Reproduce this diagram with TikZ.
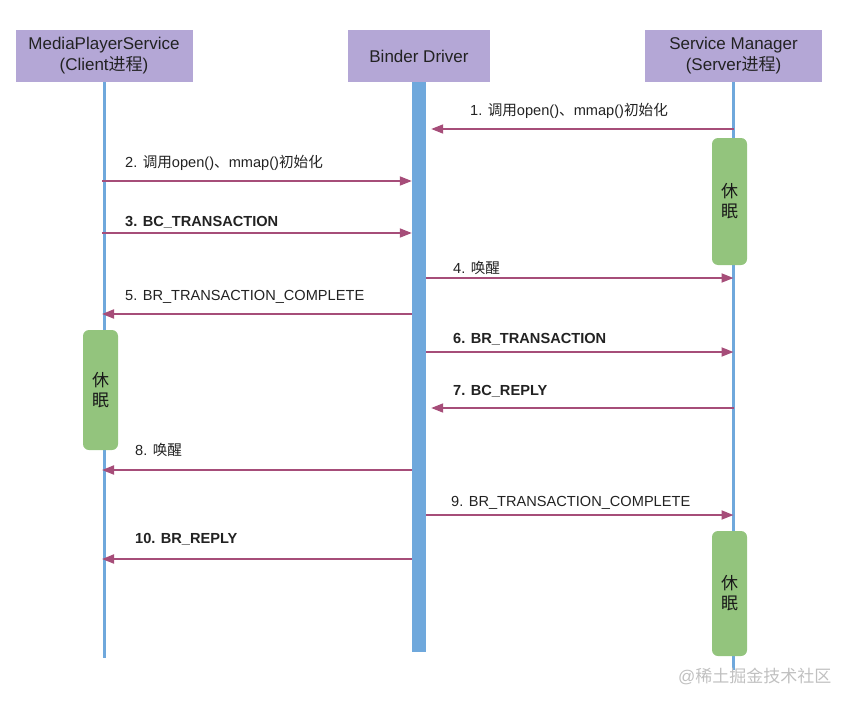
\documentclass[tikz,border=0pt]{standalone}
\usepackage{fontspec}
\setmainfont{Liberation Sans}
\newfontfamily\cjk{Noto Sans CJK SC}
\newcommand{\zh}[1]{{\cjk #1}}
\usetikzlibrary{arrows.meta, positioning}

\definecolor{headfill}{RGB}{180,167,214}
\definecolor{sleepfill}{RGB}{147,196,125}
\definecolor{lifeblue}{RGB}{111,168,220}
\definecolor{msgred}{RGB}{166,77,121}
\definecolor{textgray}{RGB}{34,34,34}
\definecolor{markgray}{RGB}{192,192,192}

\tikzset{
  header/.style={fill=headfill, minimum height=52pt, align=center, inner sep=0pt,
    font=\fontsize{17}{21}\selectfont, text=textgray},
  lifeline/.style={lifeblue, line width=3pt},
  sleepbox/.style={fill=sleepfill, rounded corners=6pt, minimum width=35pt, align=center,
    inner sep=0pt, font=\fontsize{17}{20}\selectfont, text=black!90},
  msg/.style={msgred, line width=1.8pt, -{Triangle[length=12pt,width=9pt]}},
  msglabel/.style={anchor=base west, inner sep=0pt, font=\fontsize{14.6}{16}\selectfont, text=textgray},
  msgbold/.style={msglabel, font=\fontsize{14.6}{16}\selectfont\bfseries},
}

\begin{document}
\begin{tikzpicture}[x=1pt, y=-1pt]
  \useasboundingbox (0,0) rectangle (858,706);

  % Participants
  \node[header, minimum width=177pt] (hclient) at (104,56) {MediaPlayerService\\(Client\zh{进程})};
  \node[header, minimum width=142pt] (hbinder) at (419,56) {Binder Driver};
  \node[header, minimum width=177pt] (hserver) at (733.5,56) {Service Manager\\(Server\zh{进程})};

  % Lifelines
  \draw[lifeline] (hclient.south) -- ++(0,576);
  \draw[lifeline] (hserver.south) -- ++(0,588);
  \node[fill=lifeblue, minimum width=14pt, minimum height=570pt, inner sep=0pt, anchor=north] (bar) at (hbinder.south) {};

  % Sleep phases
  \node[sleepbox, minimum height=127pt] (srvsleepA) at (729.5,201.5) {\zh{休}\\\zh{眠}};
  \node[sleepbox, minimum height=120pt] (clisleep) at (100.5,390) {\zh{休}\\\zh{眠}};
  \node[sleepbox, minimum height=125pt] (srvsleepB) at (729.5,593.5) {\zh{休}\\\zh{眠}};

  % Message ends
  \coordinate (clx) at ([xshift=-2pt]hclient.south);
  \coordinate (svx) at (hserver.south);
  \coordinate (bxt) at ([xshift=5pt]bar.east);

  % Messages
  \draw[msg] (svx |- 0,129) -- (bxt |- 0,129);
  \node[msglabel] (l1) at (470,115) {1. \zh{调用}open()\zh{、}mmap()\zh{初始化}};

  \draw[msg] (clx |- 0,181) -- (bar.west |- 0,181);
  \node[msglabel] (l2) at (125,167) {2. \zh{调用}open()\zh{、}mmap()\zh{初始化}};

  \draw[msg] (clx |- 0,233) -- (bar.west |- 0,233);
  \node[msgbold] (l3) at (125,226) {3. BC\_TRANSACTION};

  \draw[msg] (bar.east |- 0,278) -- (svx |- 0,278);
  \node[msglabel] (l4) at (453,273) {4. \zh{唤醒}};

  \draw[msg] (bar.west |- 0,314) -- (clx |- 0,314);
  \node[msglabel] (l5) at (125,300) {5. BR\_TRANSACTION\_COMPLETE};

  \draw[msg] (bar.east |- 0,352) -- (svx |- 0,352);
  \node[msgbold] (l6) at (453,343) {6. BR\_TRANSACTION};

  \draw[msg] (svx |- 0,408) -- (bxt |- 0,408);
  \node[msgbold] (l7) at (453,395) {7. BC\_REPLY};

  \draw[msg] (bar.west |- 0,470) -- (clx |- 0,470);
  \node[msglabel] (l8) at (135,455) {8. \zh{唤醒}};

  \draw[msg] (bar.east |- 0,515) -- (svx |- 0,515);
  \node[msglabel] (l9) at (451,506) {9. BR\_TRANSACTION\_COMPLETE};

  \draw[msg] (bar.west |- 0,559) -- (clx |- 0,559);
  \node[msgbold] (l10) at (135,543) {10. BR\_REPLY};

  % Watermark
  \node[anchor=base west, inner sep=0pt, text=markgray, font=\fontsize{17}{17}\selectfont] (mark) at (678,682) {@\zh{稀土掘金技术社区}};
\end{tikzpicture}
\end{document}
